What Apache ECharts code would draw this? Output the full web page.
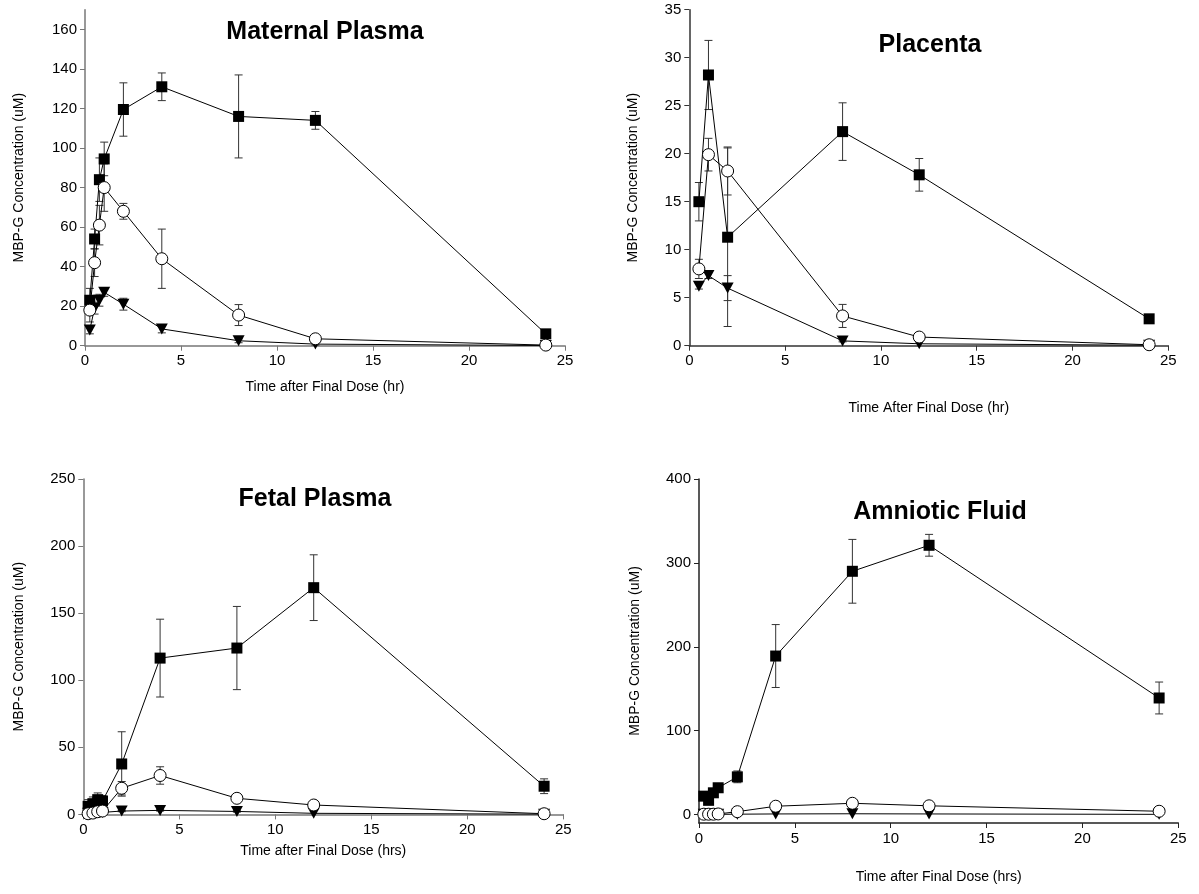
<!DOCTYPE html>
<html>
<head>
<meta charset="utf-8">
<script src="https://cdn.jsdelivr.net/npm/echarts@6/dist/echarts.min.js"></script>
<style>
  html, body { margin: 0; padding: 0; background: #fff; }
  #chart { width: 1199px; height: 894px; }
</style>
</head>
<body>
<div id="chart"></div>
<script>
// Sampling times (hours after the final dose)
const timesFull = [0.25, 0.5, 0.75, 1, 2, 4, 8, 12, 24];
const timesPlacenta = [0.5, 1, 2, 8, 12, 24];
const xTicks = [0, 5, 10, 15, 20, 25];

// Maternal plasma (uM)
const maternalSquare = [23, 54, 84, 94.5, 119.5, 131, 116, 114, 6];
const maternalSquareErr = [6, 5, 11, 8.5, 13.5, 7, 21, 4.5, 0];
const maternalCircle = [18, 42, 61, 80, 68, 44, 15.5, 3.5, 0.3];
const maternalCircleErr = [6, 7, 10, 12, 4, 15, 5.3, 1, 0];
const maternalTriangle = [8, 19, 23, 27, 21, 8.5, 2.5, 0.8, 0.1];
const maternalTriangleErr = [2, 3, 3, 2, 3, 2, 1, 0.5, 0];

// Placenta (uM)
const placentaSquare = [15, 28.2, 11.3, 22.3, 17.8, 2.8];
const placentaSquareErr = [2, 3.6, 9.3, 3, 1.7, 0];
const placentaCircle = [8, 19.9, 18.2, 3.1, 0.9, 0.1];
const placentaCircleErr = [1, 1.7, 2.5, 1.2, 0.2, 0];
const placentaTriangle = [6.2, 7.3, 6, 0.5, 0.2, 0.05];
const placentaTriangleErr = [0.3, 0.3, 1.3, 0.1, 0, 0];

// Fetal plasma (uM)
const fetalSquare = [6, 8, 11, 10, 37.6, 116.5, 124, 169, 21];
const fetalSquareErr = [5, 5, 5, 4, 24, 29, 31, 24.5, 5.5];
const fetalCircle = [0.5, 1, 2, 2.5, 19.5, 29, 12, 7, 0.5];
const fetalCircleErr = [0.5, 1, 1, 1, 5, 6.5, 2, 1, 0];
const fetalTriangle = [0.8, 1, 1.2, 1.5, 2.5, 3, 2.2, 0.8, 0.2];
const fetalTriangleErr = [0, 0, 0, 0, 0.5, 0.5, 0.5, 0, 0];

// Amniotic fluid (uM)
const amnioticSquare = [22, 17, 26, 32, 45, 189, 290, 321, 139];
const amnioticSquareErr = [3, 3, 4, 4, 7, 37.5, 38, 13, 19];
const amnioticCircle = [0.5, 0.5, 0.5, 0.8, 3.5, 10, 13.5, 10.5, 4];
const amnioticCircleErr = [0, 0, 0, 0, 1, 2, 2, 1.5, 1];
const amnioticTriangle = [0.3, 0.3, 0.3, 0.3, 0.5, 0.8, 1, 0.8, 0.3];
const amnioticTriangleErr = [0, 0, 0, 0, 0, 0, 0, 0, 0];

const panels = [
  {
    title: 'Maternal Plasma', titlePos: [320, 15],
    xName: 'Time after Final Dose (hr)', yName: 'MBP-G Concentration (uM)',
    grid: { left: 85, top: 9.7, width: 480, height: 336 },
    yMin: 0, yMax: 170, yTicks: [0, 20, 40, 60, 80, 100, 120, 140, 160],
    xNameGap: 34, yNameGap: 59,
    axisColor: '#777', times: timesFull,
    square: [maternalSquare, maternalSquareErr],
    circle: [maternalCircle, maternalCircleErr],
    triangle: [maternalTriangle, maternalTriangleErr]
  },
  {
    title: 'Placenta', titlePos: [925, 28],
    xName: 'Time After Final Dose (hr)', yName: 'MBP-G Concentration (uM)',
    grid: { left: 689.3, top: 9.7, width: 479, height: 336 },
    yMin: 0, yMax: 35, yTicks: [0, 5, 10, 15, 20, 25, 30, 35],
    xNameGap: 55, yNameGap: 49,
    axisColor: '#333', times: timesPlacenta,
    square: [placentaSquare, placentaSquareErr],
    circle: [placentaCircle, placentaCircleErr],
    triangle: [placentaTriangle, placentaTriangleErr]
  },
  {
    title: 'Fetal Plasma', titlePos: [310, 482],
    xName: 'Time after Final Dose (hrs)', yName: 'MBP-G Concentration (uM)',
    grid: { left: 83.3, top: 479, width: 480, height: 335.4 },
    yMin: 0, yMax: 250, yTicks: [0, 50, 100, 150, 200, 250],
    xNameGap: 30, yNameGap: 57,
    axisColor: '#777', times: timesFull,
    square: [fetalSquare, fetalSquareErr],
    circle: [fetalCircle, fetalCircleErr],
    triangle: [fetalTriangle, fetalTriangleErr]
  },
  {
    title: 'Amniotic Fluid', titlePos: [935, 495],
    xName: 'Time after Final Dose (hrs)', yName: 'MBP-G Concentration (uM)',
    grid: { left: 699, top: 479, width: 479.3, height: 344 },
    yMin: -10, yMax: 400, yTicks: [0, 100, 200, 300, 400],
    xNameGap: 47, yNameGap: 57,
    axisColor: '#222', times: timesFull,
    square: [amnioticSquare, amnioticSquareErr],
    circle: [amnioticCircle, amnioticCircleErr],
    triangle: [amnioticTriangle, amnioticTriangleErr]
  }
];

const FONT = '"Liberation Sans", Arial, sans-serif';

// Vertical error bars with caps, drawn in data coordinates
function errorBarSeries(idx, times, vals, errs) {
  const data = [];
  times.forEach((t, i) => {
    if (errs[i] > 0) data.push([t, vals[i] - errs[i], vals[i] + errs[i]]);
  });
  return {
    type: 'custom',
    xAxisIndex: idx, yAxisIndex: idx,
    silent: true, z: 1,
    data: data,
    encode: { x: 0, y: [1, 2] },
    renderItem: function (params, api) {
      const x = api.value(0);
      const lo = api.coord([x, api.value(1)]);
      const hi = api.coord([x, api.value(2)]);
      const cap = 4;
      const style = { stroke: '#333', lineWidth: 1, fill: null };
      return {
        type: 'group',
        children: [
          { type: 'line', shape: { x1: lo[0], y1: lo[1], x2: hi[0], y2: hi[1] }, style: style },
          { type: 'line', shape: { x1: hi[0] - cap, y1: hi[1], x2: hi[0] + cap, y2: hi[1] }, style: style },
          { type: 'line', shape: { x1: lo[0] - cap, y1: lo[1], x2: lo[0] + cap, y2: lo[1] }, style: style }
        ]
      };
    }
  };
}

function lineSeries(idx, times, vals, kind) {
  const base = {
    type: 'line',
    xAxisIndex: idx, yAxisIndex: idx,
    data: times.map((t, i) => [t, vals[i]]),
    lineStyle: { color: '#000', width: 1 },
    animation: false,
    silent: true,
    showAllSymbol: true
  };
  if (kind === 'square') {
    Object.assign(base, { symbol: 'rect', symbolSize: 11, z: 3,
      itemStyle: { color: '#000', borderColor: '#000', borderWidth: 0 } });
  } else if (kind === 'circle') {
    Object.assign(base, { symbol: 'circle', symbolSize: 12, z: 4,
      itemStyle: { color: '#fff', borderColor: '#000', borderWidth: 1 } });
  } else {
    Object.assign(base, { symbol: 'triangle', symbolSize: [12, 11], symbolRotate: 180, z: 2,
      itemStyle: { color: '#000', borderColor: '#000', borderWidth: 0 } });
  }
  return base;
}

const option = {
  backgroundColor: '#fff',
  animation: false,
  title: [],
  grid: [],
  xAxis: [],
  yAxis: [],
  series: []
};

panels.forEach((p, idx) => {
  option.title.push({
    text: p.title, left: p.titlePos[0], top: p.titlePos[1],
    textAlign: 'center',
    textStyle: { fontFamily: FONT, fontSize: 25, fontWeight: 'bold', color: '#000' }
  });
  option.grid.push(Object.assign({ containLabel: false }, p.grid));
  option.xAxis.push({
    type: 'value', gridIndex: idx, min: 0, max: 25, interval: 5,
    name: p.xName, nameLocation: 'middle', nameGap: p.xNameGap,
    nameTextStyle: { fontFamily: FONT, fontSize: 14, color: '#000' },
    axisLine: { show: true, onZero: false, lineStyle: { color: p.axisColor, width: 1.5 } },
    axisTick: { show: true, inside: false, length: 5, lineStyle: { color: p.axisColor }, customValues: xTicks },
    axisLabel: { fontFamily: FONT, fontSize: 15, color: '#000', margin: 8, customValues: xTicks },
    splitLine: { show: false }
  });
  option.yAxis.push({
    type: 'value', gridIndex: idx, min: p.yMin, max: p.yMax,
    name: p.yName, nameLocation: 'middle', nameGap: p.yNameGap, nameRotate: 90,
    nameTextStyle: { fontFamily: FONT, fontSize: 14, color: '#000' },
    axisLine: { show: true, onZero: false, lineStyle: { color: p.axisColor, width: 1.5 } },
    axisTick: { show: true, inside: false, length: 5, lineStyle: { color: p.axisColor }, customValues: p.yTicks },
    axisLabel: { fontFamily: FONT, fontSize: 15, color: '#000', margin: 8, customValues: p.yTicks },
    splitLine: { show: false }
  });
  option.series.push(errorBarSeries(idx, p.times, p.triangle[0], p.triangle[1]));
  option.series.push(errorBarSeries(idx, p.times, p.square[0], p.square[1]));
  option.series.push(errorBarSeries(idx, p.times, p.circle[0], p.circle[1]));
  option.series.push(lineSeries(idx, p.times, p.triangle[0], 'triangle'));
  option.series.push(lineSeries(idx, p.times, p.square[0], 'square'));
  option.series.push(lineSeries(idx, p.times, p.circle[0], 'circle'));
});

const chart = echarts.init(document.getElementById('chart'), null, { renderer: 'canvas' });
chart.setOption(option);
</script>
</body>
</html>
